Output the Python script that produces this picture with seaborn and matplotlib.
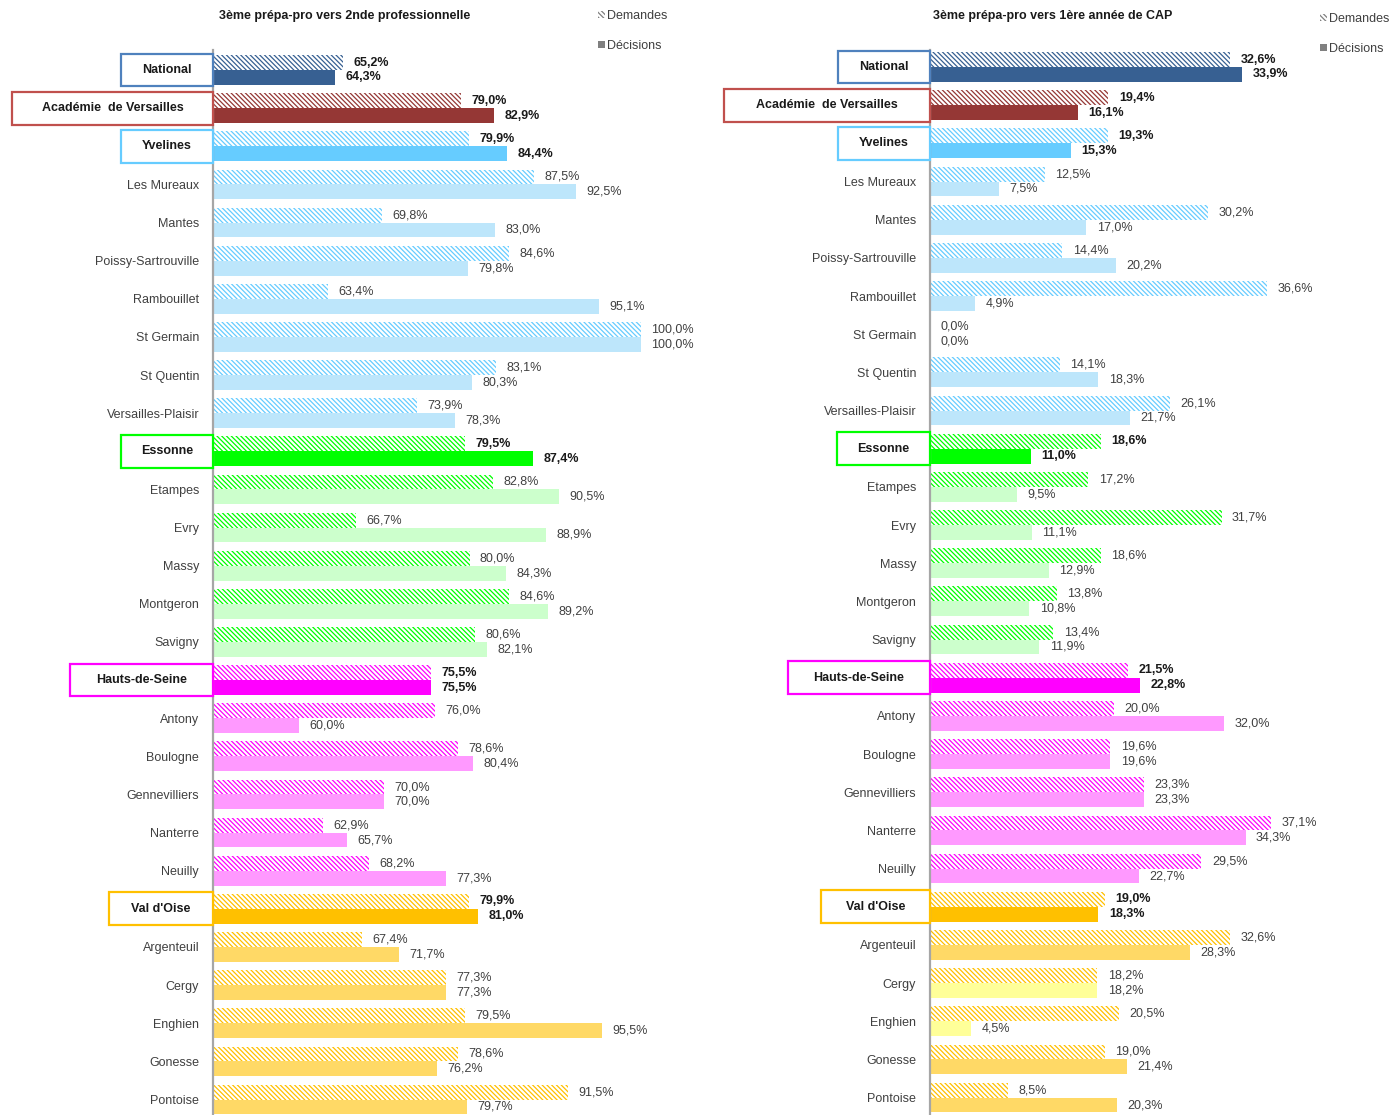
import matplotlib
matplotlib.use("Agg")
import numpy as np
import pandas as pd
import seaborn as sns
import matplotlib.pyplot as plt
from matplotlib.patches import Rectangle, Patch
import matplotlib.transforms as mtransforms

# ---------------- data ----------------
categories = ["National", "Académie  de Versailles", "Yvelines", "Les Mureaux", "Mantes",
              "Poissy-Sartrouville", "Rambouillet", "St Germain", "St Quentin",
              "Versailles-Plaisir", "Essonne", "Etampes", "Evry", "Massy", "Montgeron",
              "Savigny", "Hauts-de-Seine", "Antony", "Boulogne", "Gennevilliers",
              "Nanterre", "Neuilly", "Val d'Oise", "Argenteuil", "Cergy", "Enghien",
              "Gonesse", "Pontoise"]
group_rows = ["National", "Académie  de Versailles", "Yvelines", "Essonne",
              "Hauts-de-Seine", "Val d'Oise"]
row_group = ["nat", "aca", "yv", "yv", "yv", "yv", "yv", "yv", "yv", "yv",
             "es", "es", "es", "es", "es", "es",
             "hs", "hs", "hs", "hs", "hs", "hs",
             "vo", "vo", "vo", "vo", "vo", "vo"]

dem_2nde = [65.2, 79.0, 79.9, 87.5, 69.8, 84.6, 63.4, 100.0, 83.1, 73.9,
            79.5, 82.8, 66.7, 80.0, 84.6, 80.6,
            75.5, 76.0, 78.6, 70.0, 62.9, 68.2,
            79.9, 67.4, 77.3, 79.5, 78.6, 91.5]
dec_2nde = [64.3, 82.9, 84.4, 92.5, 83.0, 79.8, 95.1, 100.0, 80.3, 78.3,
            87.4, 90.5, 88.9, 84.3, 89.2, 82.1,
            75.5, 60.0, 80.4, 70.0, 65.7, 77.3,
            81.0, 71.7, 77.3, 95.5, 76.2, 79.7]
dem_cap = [32.6, 19.4, 19.3, 12.5, 30.2, 14.4, 36.6, 0.0, 14.1, 26.1,
           18.6, 17.2, 31.7, 18.6, 13.8, 13.4,
           21.5, 20.0, 19.6, 23.3, 37.1, 29.5,
           19.0, 32.6, 18.2, 20.5, 19.0, 8.5]
dec_cap = [33.9, 16.1, 15.3, 7.5, 17.0, 20.2, 4.9, 0.0, 18.3, 21.7,
           11.0, 9.5, 11.1, 12.9, 10.8, 11.9,
           22.8, 32.0, 19.6, 23.3, 34.3, 22.7,
           18.3, 28.3, 18.2, 4.5, 21.4, 20.3]

series = ["Demandes", "Décisions"]
titles = ["3ème prépa-pro vers 2nde professionnelle", "3ème prépa-pro vers 1ère année de CAP"]

# ---------------- styles ----------------
main_color = {"nat": "#376092", "aca": "#953735", "yv": "#66CCFF", "es": "#00FF00",
              "hs": "#FF00FF", "vo": "#FFC000"}
sub_color = {"yv": "#BDE6FB", "es": "#CCFFCC", "hs": "#FF99FF", "vo": "#FFD966"}
box_color = {"nat": "#4F81BD", "aca": "#C0504D", "yv": "#66CCFF", "es": "#00FF00",
             "hs": "#FF00FF", "vo": "#FFC000"}
cap_dec_override = {"Cergy": "#FFFF99", "Enghien": "#FFFF99"}
HATCH = "\\" * 7

sns.set_style("white")
plt.rcParams["font.family"] = ["Liberation Sans", "DejaVu Sans"]
plt.rcParams["hatch.linewidth"] = 0.9

W, H = 1390, 1115
fig = plt.figure(figsize=(W / 100, H / 100), dpi=100)

panels = [
    dict(dem=dem_2nde, dec=dec_2nde, title=titles[0], left=213, right=700, top=50,
         x0=50, ppu=8.55, c0=70.0, step=38.13, title_x=345, title_y=16,
         boxes={"nat": 92, "aca": 201, "yv": 92, "es": 92, "hs": 143, "vo": 104},
         legend=(598, 10), override={}),
    dict(dem=dem_cap, dec=dec_cap, title=titles[1], left=930, right=1390, top=50,
         x0=0, ppu=9.2, c0=67.0, step=38.17, title_x=1053, title_y=16,
         boxes={"nat": 92, "aca": 206, "yv": 92, "es": 93, "hs": 142, "vo": 109},
         legend=(1320, 13), override=cap_dec_override),
]

n = len(categories)
fmt = lambda v: f"{v:.1f}%".replace(".", ",")

for p in panels:
    aw = p["right"] - p["left"]
    ah = H - p["top"]
    ax = fig.add_axes([p["left"] / W, 0, aw / W, ah / H])
    df = pd.DataFrame({"cat": categories * 2,
                       "val": p["dem"] + p["dec"],
                       "serie": [series[0]] * n + [series[1]] * n})
    sns.barplot(data=df, y="cat", x="val", hue="serie", hue_order=series, order=categories,
                orient="h", width=0.78, errorbar=None, palette=["#FFFFFF", "#808080"],
                legend=False, ax=ax, saturation=1)

    cont_dem, cont_dec = ax.containers[0], ax.containers[1]
    for i, (bd, bs) in enumerate(zip(cont_dem, cont_dec)):
        g = row_group[i]
        is_grp = categories[i] in group_rows
        hatch_c = main_color[g]
        fill_c = main_color[g] if is_grp else sub_color[g]
        fill_c = p["override"].get(categories[i], fill_c)
        bd.set_facecolor("white")
        bd.set_edgecolor(hatch_c)
        bd.set_hatch(HATCH)
        bd.set_linewidth(0)
        bs.set_facecolor(fill_c)
        bs.set_edgecolor("none")
        bs.set_linewidth(0)

    for cont, vals in ((cont_dem, p["dem"]), (cont_dec, p["dec"])):
        texts = ax.bar_label(cont, labels=[fmt(v) for v in vals], padding=7.5,
                             fontsize=9, color="#404040")
        for i, t in enumerate(texts):
            if categories[i] in group_rows:
                t.set_fontweight("bold")
                t.set_color("#1A1A1A")

    xmax = p["x0"] + aw / p["ppu"]
    ax.set_xlim(p["x0"], xmax)
    top_d = -(p["c0"] - p["top"]) / p["step"]
    bot_d = (H - p["c0"]) / p["step"]
    ax.set_ylim(bot_d, top_d)

    ax.set_yticks(range(n))
    ax.set_yticklabels([c if c not in group_rows else "" for c in categories])
    ax.tick_params(axis="y", length=0, pad=10, labelsize=9, labelcolor="#404040")
    ax.set_xticks([])
    ax.set_xlabel("")
    ax.set_ylabel("")
    for s in ("top", "right", "bottom"):
        ax.spines[s].set_visible(False)
    ax.spines["left"].set_color("#A6A6A6")
    ax.spines["left"].set_linewidth(1.6)

    # group boxes
    trans = mtransforms.blended_transform_factory(ax.transAxes, ax.transData)
    for i, c in enumerate(categories):
        if c in group_rows:
            g = row_group[i]
            wfrac = p["boxes"][g] / aw
            rect = Rectangle((-wfrac, i - 0.43), wfrac, 0.86, transform=trans,
                             facecolor="white", edgecolor=box_color[g], linewidth=1.6,
                             clip_on=False, zorder=5)
            ax.add_patch(rect)
            ax.text(-wfrac / 2, i, c, transform=trans, ha="center", va="center",
                    fontsize=9, fontweight="bold", color="#1A1A1A", zorder=6)

    fig.text(p["title_x"] / W, 1 - p["title_y"] / H, p["title"], ha="center", va="center",
             fontsize=9, fontweight="bold", color="#1A1A1A")

    handles = [Patch(facecolor="white", edgecolor="#808080", hatch=HATCH, linewidth=0),
               Patch(facecolor="#808080", edgecolor="none")]
    lx, ly = p["legend"]
    fig.legend(handles, series, loc="upper left", bbox_to_anchor=(lx / W, 1 - ly / H),
               frameon=False, fontsize=9, handlelength=0.55, handleheight=0.55,
               handletextpad=0.15, labelspacing=1.45, labelcolor="#404040",
               borderaxespad=0, borderpad=0)

fig.savefig("out.png", dpi=100, facecolor="white")
